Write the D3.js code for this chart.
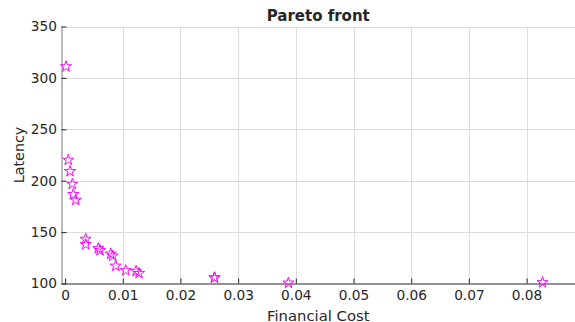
<!DOCTYPE html>
<html>
<head>
<meta charset="utf-8">
<script src="https://d3js.org/d3.v7.min.js"></script>
<style>
  body { margin: 0; background: #fff; }
  text { font-family: "DejaVu Sans", sans-serif; fill: #262626; }
  .grid line { stroke: #dcdcdc; stroke-width: 1; }
</style>
</head>
<body>
<svg width="575" height="322"></svg>
<script>
  // Pareto front points (financial cost, latency)
  var cost = [0.00016, 0.00056, 0.00085, 0.00125, 0.00142, 0.00184, 0.00357, 0.00357,
              0.00576, 0.00605, 0.00791, 0.00826, 0.00878, 0.01051, 0.0123, 0.01282,
              0.02588, 0.02592, 0.03872, 0.08277];
  var latency = [311.0, 220.1, 209.1, 196.7, 186.7, 181.2, 143.2, 138.0,
                 134.1, 132.2, 128.8, 126.9, 117.1, 112.7, 112.0, 110.0,
                 105.8, 105.5, 100.6, 101.0];
  var xTicks = [0, 0.01, 0.02, 0.03, 0.04, 0.05, 0.06, 0.07, 0.08];
  var yTicks = [100, 150, 200, 250, 300, 350];

  var svg = d3.select("svg"),
      pLeft = 61.5, pRight = 575, pTop = 26.5, pBottom = 283.5;

  var x = d3.scaleLinear().domain([-0.000625, 0.0884]).range([pLeft, pRight]);
  var y = d3.scaleLinear().domain([100, 350]).range([pBottom, pTop]);

  // grid
  var grid = svg.append("g").attr("class", "grid");
  grid.selectAll(".gx").data(xTicks.slice(1)).enter().append("line")
      .attr("x1", function (d) { return Math.round(x(d)) + 0.5; })
      .attr("x2", function (d) { return Math.round(x(d)) + 0.5; })
      .attr("y1", pTop).attr("y2", pBottom);
  grid.selectAll(".gy").data(yTicks.slice(1)).enter().append("line")
      .attr("y1", function (d) { return Math.round(y(d)) + 0.5; })
      .attr("y2", function (d) { return Math.round(y(d)) + 0.5; })
      .attr("x1", pLeft).attr("x2", pRight);

  // axes, ticks pointing inward
  var xAxis = svg.append("g").attr("transform", "translate(0," + pBottom + ")")
      .call(d3.axisBottom(x).tickValues(xTicks).tickSize(-5).tickPadding(7)
        .tickFormat(function (d) { return d === 0 ? "0" : d3.format(".2f")(d); }));
  var yAxis = svg.append("g").attr("transform", "translate(" + pLeft + ",0)")
      .call(d3.axisLeft(y).tickValues(yTicks).tickSize(-5).tickPadding(4.5));
  [xAxis, yAxis].forEach(function (a) {
    a.select(".domain").attr("stroke", "#262626");
    a.selectAll(".tick line").attr("stroke", "#262626");
    a.selectAll("text").style("font-size", "13.7px").attr("fill", "#262626")
      .style("font-family", "DejaVu Sans, sans-serif");
  });
  xAxis.select(".domain").attr("d", "M" + pLeft + ",0.5H" + pRight);
  yAxis.select(".domain").attr("d", "M0.5," + pBottom + "V" + pTop).attr("stroke", "#777");

  // markers
  var star = d3.symbol().type(d3.symbolStar).size(38);
  svg.append("g").selectAll("path").data(cost).enter().append("path")
      .attr("d", star)
      .attr("transform", function (d, i) { return "translate(" + x(d) + "," + y(latency[i]) + ")"; })
      .attr("fill", "none")
      .attr("stroke", "#ff00ff")
      .attr("stroke-width", 1);

  // labels
  svg.append("text").attr("x", (pLeft + pRight) / 2).attr("y", 21)
      .attr("text-anchor", "middle").style("font-size", "15px").style("font-weight", "bold")
      .attr("fill", "#000").text("Pareto front");
  svg.append("text").attr("x", (pLeft + pRight) / 2).attr("y", 320.5)
      .attr("text-anchor", "middle").style("font-size", "14.8px").text("Financial Cost");
  svg.append("text").attr("transform", "translate(24," + (pTop + pBottom) / 2 + ") rotate(-90)")
      .attr("text-anchor", "middle").style("font-size", "14.3px").text("Latency");
</script>
</body>
</html>
